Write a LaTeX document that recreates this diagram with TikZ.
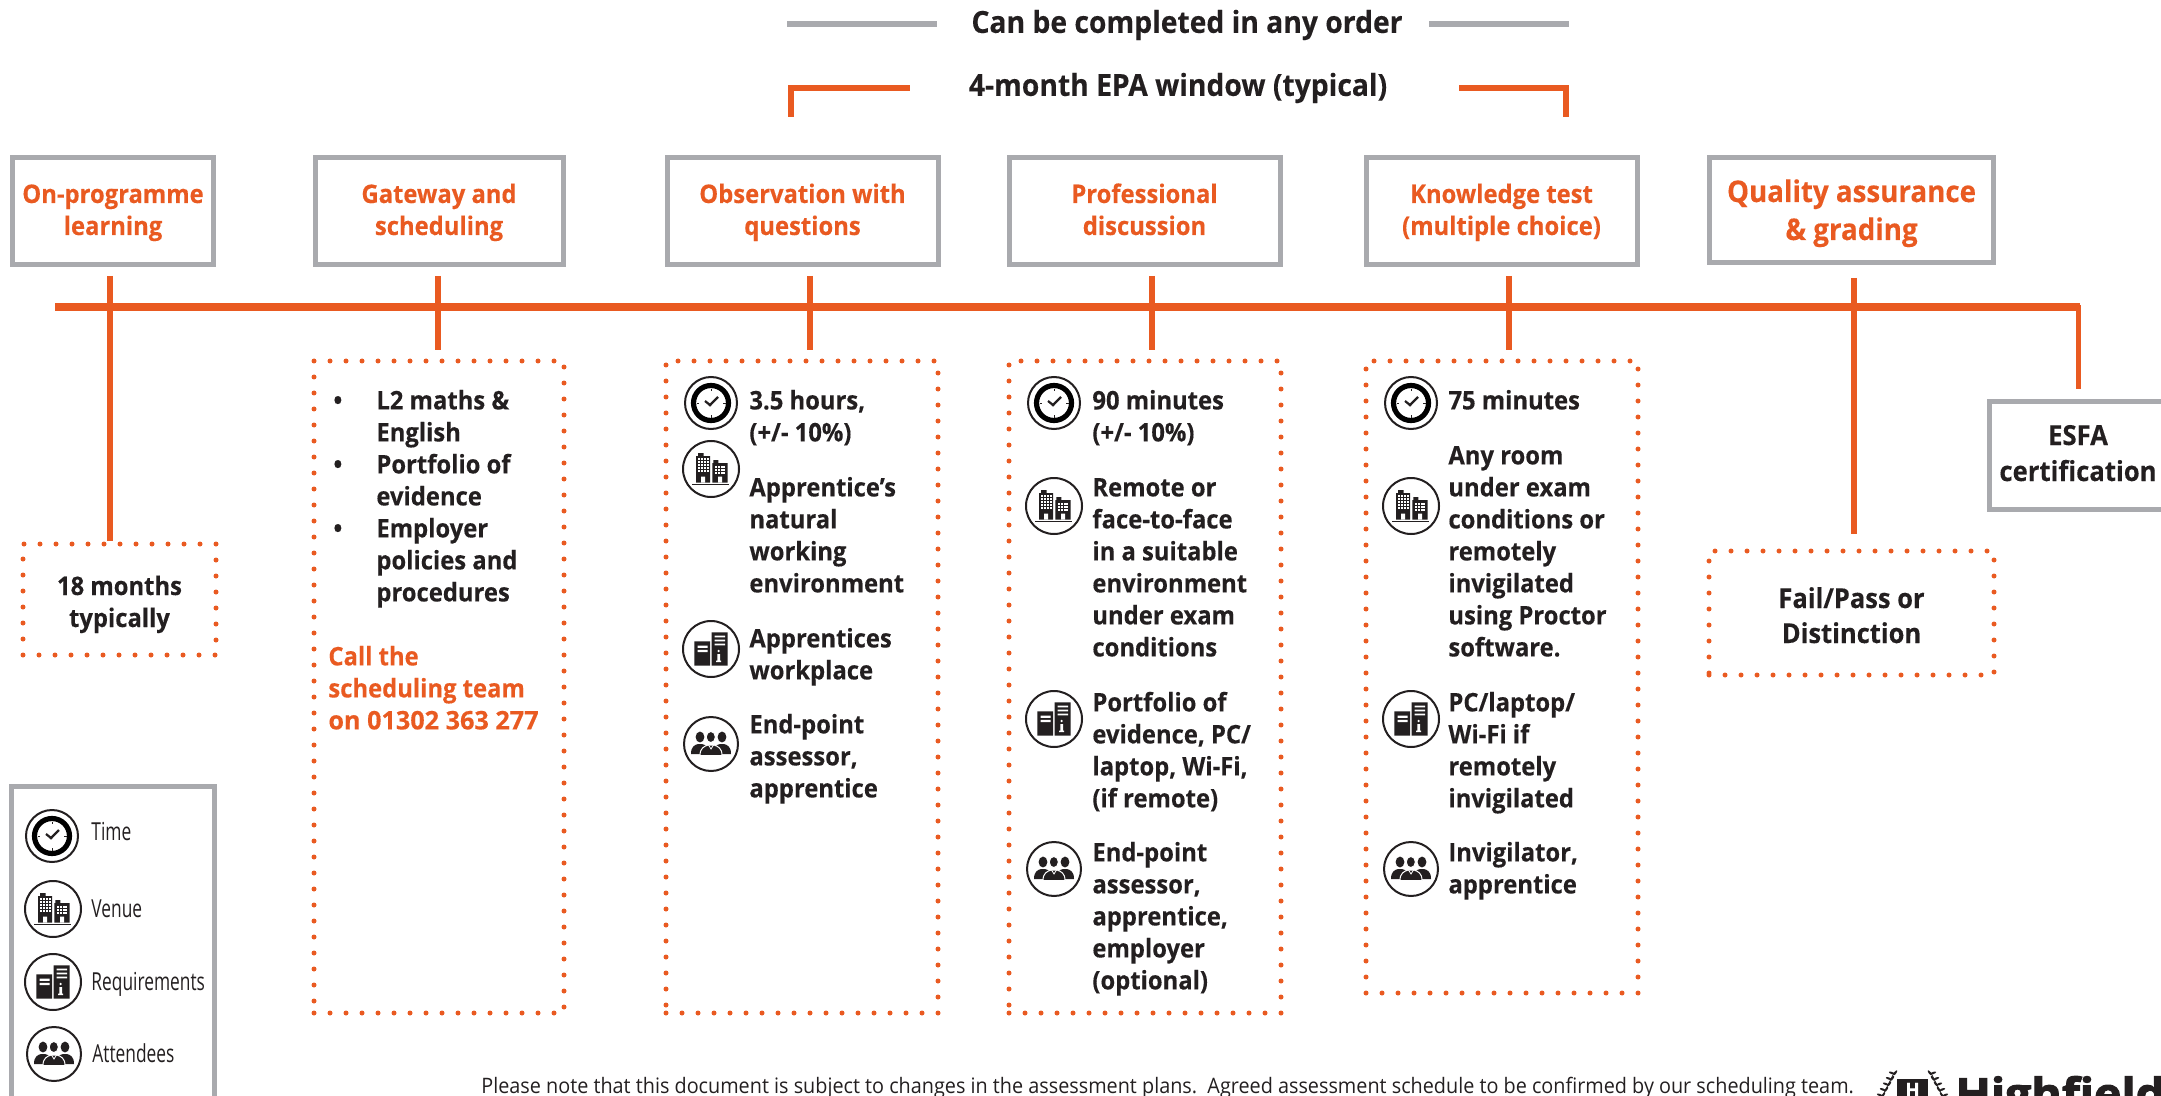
\documentclass[tikz,border=0pt]{standalone}
\usepackage{fontspec}
\setmainfont{Open Sans}[FakeStretch=0.93,BoldFeatures={FakeBold=0.25}]
\newfontfamily\condf{Open Sans}[FakeStretch=0.70]
\newfontfamily\widef{Open Sans}[FakeStretch=0.985,BoldFeatures={FakeBold=0.25}]
\newfontfamily\logof{Open Sans}[FakeStretch=1.08,BoldFeatures={FakeBold=2.5}]
\definecolor{orng}{HTML}{E95A21}
\definecolor{gry}{HTML}{A9AAAE}
\definecolor{ink}{HTML}{231F20}
\newcommand{\fb}{\vrule height 11pt depth 0pt width 0pt }
\newcommand{\hs}[2]{\vrule height #1pt depth #2pt width 0pt }
\newcommand{\bodyf}{\fontsize{12.8}{16}\selectfont\bfseries}
\tikzset{
  headbox/.style={draw=gry,line width=2.5pt,fill=white,text=orng,align=center,font=\bodyf,inner sep=0},
  dotbox/.style={draw=orng,line width=2.5pt,line cap=round,dash pattern=on 0pt off 8pt,align=center,font=\bodyf,text=ink,inner sep=0},
  body/.style={anchor=north west,align=left,font=\bodyf,text=ink,inner sep=0},
  legend/.style={anchor=west,font=\condf\fontsize{12.4}{15}\selectfont,text=ink,inner sep=0},
  rail/.style={draw=orng,line width=4pt},
  stem/.style={draw=orng,line width=2.7pt},
  topline/.style={draw=gry,line width=3pt},
  bracket/.style={draw=orng,line width=3pt},
  toptext/.style={font=\fontsize{15.2}{18}\selectfont\bfseries,text=ink,inner sep=0},
  iconclock/.pic={
    \draw[ink,line width=1pt,fill=white] (0,0) circle (26);
    \draw[black,line width=2.6pt] (0,0) circle (17.5);
    \draw[ink,line width=.5pt] (0,-14.5)--(0,-12) (0,14.5)--(0,12) (-14.5,0)--(-12,0) (14.5,0)--(12,0);
    \draw[ink,line width=1.1pt] (-6,-2)--(-1,2)--(7,-6);
    \fill[ink] (-1,2) circle (1.6);
  },
  iconvenue/.pic={
    \draw[ink,line width=1pt,fill=white] (0,0) circle (28);
    \fill[ink] (-13,-16) rectangle (-7.5,-12) (-15,-13) rectangle (-1,13.5);
    \fill[ink] (2.3,-9) rectangle (7.3,-5) (1.3,-6) rectangle (16.7,13.5);
    \fill[ink] (-19,14.8) rectangle (18,16.4);
    \foreach \i in {-12.6,-9.8,-7,-4.2}{\foreach \j in {-11,-8,-5,-2,1}{\fill[white] (\i,\j) rectangle ++(1.9,1.9);}}
    \foreach \i in {4,6.8,9.6,12.4}{\foreach \j in {-3,0,3}{\fill[white] (\i,\j) rectangle ++(1.9,1.9);}}
    \fill[white] (-10,7.5) rectangle (-6,13.5) (7,7.5) rectangle (11,13.5);
  },
  iconreq/.pic={
    \draw[ink,line width=1pt,fill=white] (0,0) circle (28);
    \fill[ink] (-16.7,-7.7) rectangle (-1,16.7) (.7,-16.7) rectangle (16.7,16.7);
    \fill[white] (-13.5,-3.5) rectangle (-3.5,-1.2) (-13.5,.8) rectangle (-3.5,3.1);
    \fill[white] (3.5,-13.5) rectangle (14,-11.6) (3.5,-9.5) rectangle (14,-7.6) (3.5,-5.5) rectangle (14,-3.6);
    \fill[white] (7.6,2) circle (1.3) (6.4,5) rectangle (9,12) (5.2,11.5) rectangle (10.2,13);
  },
  iconatt/.pic={
    \draw[ink,line width=1pt,fill=white] (0,0) circle (27);
    \foreach \cx in {-11,11}{
      \fill[ink] (\cx,-7) ellipse (4.4 and 5.4);
      \fill[ink] (\cx-9,10) .. controls (\cx-9,2) and (\cx-5,1) .. (\cx-2,0) -- (\cx+2,0) .. controls (\cx+5,1) and (\cx+9,2) .. (\cx+9,10) -- cycle;
    }
    \fill[ink,draw=white,line width=.5pt] (-.2,-7) ellipse (4.6 and 5.6);
    \fill[ink,draw=white,line width=.5pt] (-11,11.5) .. controls (-11,4) and (-7,2.5) .. (-3,1) -- (3,1) .. controls (7,2.5) and (11,4) .. (11,11.5) -- cycle;
    \draw[white,line width=.4pt] (-2.5,1)--(0,5)--(2.5,1);
  },
}
\begin{document}
\begin{tikzpicture}[x=0.5pt,y=-0.5pt]
\useasboundingbox (0,0) rectangle (2161,1096);
\clip (0,0) rectangle (2161,1096);
% top key
\node[toptext] (anyorder) at (1187,25) {Can be completed in any order};
\coordinate (g1) at (787,24); \coordinate (g2) at (937,24);
\coordinate (g3) at (1429,24); \coordinate (g4) at (1569,24);
\draw[topline] (g1)--(g2); \draw[topline] (g3)--(g4);
\node[toptext] (window) at (1178,88) {4-month EPA window (typical)};
\coordinate (b1) at (791,117); \coordinate (b2) at (791,88); \coordinate (b3) at (910,88);
\coordinate (b4) at (1459,88); \coordinate (b5) at (1566,88); \coordinate (b6) at (1566,117);
\draw[bracket] (b1)--(b2)--(b3); \draw[bracket] (b4)--(b5)--(b6);
% headers
\node[headbox,minimum width=201pt/2,minimum height=107pt/2] at (113,211) (h1) {\hs{12}{0}On-programme\\learning\hs{0}{4}};
\node[headbox,minimum width=248pt/2,minimum height=107pt/2] at (439,211) (h2) {\hs{12}{0}Gateway and\\scheduling\hs{0}{4}};
\node[headbox,minimum width=271pt/2,minimum height=107pt/2] at (802.5,211) (h3) {\hs{12}{0}Observation with\\questions\hs{0}{4}};
\node[headbox,minimum width=271pt/2,minimum height=107pt/2] at (1144.5,211) (h4) {\hs{12}{0}Professional\\discussion\hs{0}{4}};
\node[headbox,minimum width=271pt/2,minimum height=107pt/2] at (1501.5,211) (h5) {\hs{12}{0}Knowledge test\\(multiple choice)\hs{0}{4}};
\node[headbox,minimum width=284pt/2,minimum height=105pt/2,font=\fontsize{14.9}{19}\selectfont\bfseries] at (1851.5,210) (h6) {\hs{15}{0}Quality assurance\\\& grading\hs{0}{4}};
\node[headbox,minimum width=177pt/2,minimum height=108pt/2,text=ink,font=\fontsize{13.8}{18}\selectfont\bfseries] at (2078,455.5) (esfa) {\hs{12}{0}ESFA\\certification\hs{0}{4.5}};
% dotted boxes
\node[dotbox,minimum width=193pt/2,minimum height=111pt/2] at (119.5,599.5) (d1) {\hs{15.5}{0}18 months\\typically\hs{0}{4}};
\node[dotbox,minimum width=250pt/2,minimum height=652pt/2] at (439,687) (d2) {};
\node[dotbox,minimum width=272pt/2,minimum height=652pt/2] at (802,687) (d3) {};
\node[dotbox,minimum width=272pt/2,minimum height=652pt/2] at (1145,687) (d4) {};
\node[dotbox,minimum width=272pt/2,minimum height=632pt/2] at (1502,677) (d5) {};
\node[dotbox,minimum width=285pt/2,minimum height=124pt/2,font=\fontsize{13.7}{17.5}\selectfont\bfseries] at (1851.5,613) (d6) {\hs{16.5}{0}Fail/Pass or\\Distinction\hs{0}{4}};
% timeline
\coordinate (r0) at (55,307); \coordinate (r1) at (2080,307);
\coordinate (e0) at (2078.7,305); \coordinate (e1) at (2078.7,389);
\draw[rail] (r0)--(r1);
\draw[stem] (e0)--(e1);
\foreach \n/\x/\a/\b in {s1/110/276/541,s2/438/276/350,s3/810/276/350,s4/1152/276/350,s5/1509/276/350,s6/1854/278/534}{
  \coordinate (\n a) at (\x,\a); \coordinate (\n b) at (\x,\b);
  \draw[stem] (\n a)--(\n b);
}
% gateway text
\node[body] (t2) at (333,387) {\fb\hbox to 21.5pt{•\hfil}L2 maths \&\\\hspace*{21.5pt}English\\\hbox to 21.5pt{•\hfil}Portfolio of\\\hspace*{21.5pt}evidence\\\hbox to 21.5pt{•\hfil}Employer\\\hspace*{21.5pt}policies and\\\hspace*{21.5pt}procedures};
\node[body,text=orng] (t2b) at (328,643) {\fb Call the\\scheduling team\\{\widef\bfseries on 01302 363 277}};
% observation
\node[body] (o1) at (749,387) {\fb 3.5 hours,\\(+/- 10\%)};
\node[body] (o2) at (749,474) {\fb Apprentice’s\\natural\\working\\environment};
\node[body] (o3) at (749,625) {\fb Apprentices\\workplace};
\node[body] (o4) at (749,711) {\fb End-point\\assessor,\\apprentice};
\path (711,403) pic {iconclock} (711,469) pic {iconvenue} (711,649) pic {iconreq} (711,744) pic {iconatt};
% professional
\node[body] (p1) at (1092,387) {\fb 90 minutes\\(+/- 10\%)};
\node[body] (p2) at (1092,474) {\fb Remote or\\face-to-face\\in a suitable\\environment\\under exam\\conditions};
\node[body] (p3) at (1092,689) {\fb Portfolio of\\evidence, PC/\\laptop, Wi-Fi,\\(if remote)};
\node[body] (p4) at (1092,839) {\fb End-point\\assessor,\\apprentice,\\employer\\(optional)};
\path (1054,403) pic {iconclock} (1054,506) pic {iconvenue} (1054,719) pic {iconreq} (1054,869) pic {iconatt};
% knowledge
\node[body] (k1) at (1448,387) {\fb 75 minutes};
\node[body] (k2) at (1448,442) {\fb Any room\\under exam\\conditions or\\remotely\\invigilated\\using Proctor\\software.};
\node[body] (k3) at (1448,689) {\fb PC/laptop/\\Wi-Fi if\\remotely\\invigilated};
\node[body] (k4) at (1448,839) {\fb Invigilator,\\apprentice};
\path (1411,403) pic {iconclock} (1411,506) pic {iconvenue} (1411,719) pic {iconreq} (1411,869) pic {iconatt};
% legend
\node[draw=gry,line width=2.5pt,minimum width=203pt/2,minimum height=330pt/2,inner sep=0] at (113,951) (lg) {};
\path (52,836) pic {iconclock} (53,909) pic {iconvenue} (53,982) pic {iconreq} (54,1054) pic {iconatt};
\node[legend] (l1) at (91,832) {Time};
\node[legend] (l2) at (91,909) {Venue};
\node[legend] (l3) at (91,984) {Requirements};
\node[legend] (l4) at (92,1053) {Attendees};
% footer
\node[anchor=base west,inner sep=0,text=ink,font=\fontsize{10.65}{13}\selectfont] (note) at (481,1093) {Please note that this document is subject to changes in the assessment plans.\ \ Agreed assessment schedule to be confirmed by our scheduling team.};
% logo
\fill[ink] (1897,1079) rectangle (1928,1100);
\node[inner sep=0,text=white,font=\fontsize{10}{10}\selectfont\bfseries] (logoH) at (1912.5,1090) {H};
\foreach \s in {1,-1}{
  \begin{scope}[shift={(1912.5,0)},xscale=\s]
    \draw[ink,line width=.4pt] (18,1072)--(31,1098);
    \foreach \t in {0,1,2,3,4}{
      \fill[ink,rotate around={-55:(18+3*\t,1074+5.5*\t)}] (18+3*\t-1.5,1074+5.5*\t) ellipse (3 and 1.1);
      \fill[ink,rotate around={20:(18+3*\t,1074+5.5*\t)}] (18+3*\t+3,1074+5.5*\t) ellipse (3 and 1.1);
    }
  \end{scope}
}
\node[anchor=base west,inner sep=0,text=ink,font=\logof\fontsize{21.5}{24}\selectfont\bfseries] (logo) at (1955,1109) {Highfield};
\end{tikzpicture}
\end{document}
